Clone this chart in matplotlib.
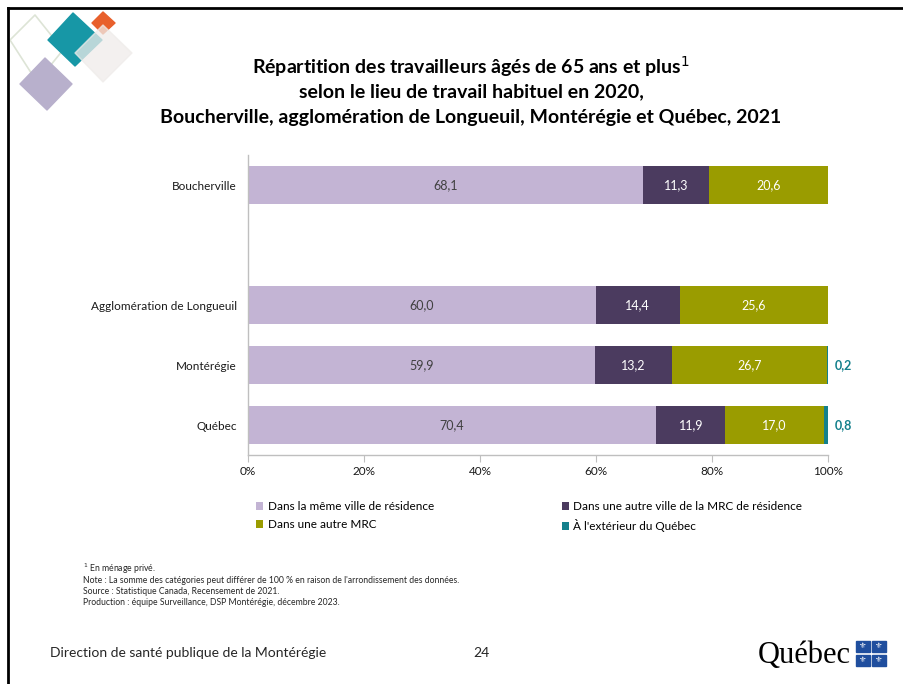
import matplotlib.pyplot as plt
from matplotlib.patches import Polygon, Rectangle
import matplotlib.lines as mlines

# ------------------------------------------------------------
# Data: workers aged 65+ by usual place of work (%)
# ------------------------------------------------------------
territoires = ["Boucherville", "", "Agglomération de Longueuil", "Montérégie", "Québec"]
meme_ville = [68.1, 0, 60.0, 59.9, 70.4]
autre_ville_mrc = [11.3, 0, 14.4, 13.2, 11.9]
autre_mrc = [20.6, 0, 25.6, 26.7, 17.0]
exterieur = [0, 0, 0, 0.2, 0.8]

series_labels = [
    "Dans la même ville de résidence",
    "Dans une autre ville de la MRC de résidence",
    "Dans une autre MRC",
    "À l'extérieur du Québec",
]
series_colors = ["#c3b4d4", "#4b3b5f", "#9a9c00", "#14808c"]
text_colors = ["#404040", "white", "white", "#14808c"]

ticks = [0, 20, 40, 60, 80, 100]
tick_labels = ["0%", "20%", "40%", "60%", "80%", "100%"]

plt.rcParams["font.family"] = ["Lato", "DejaVu Sans"]

W, H = 904, 684
fig = plt.figure(figsize=(W / 100, H / 100), dpi=100)

# ------------------------------------------------------------
# Slide frame and decorative diamonds (pixel coordinates)
# ------------------------------------------------------------
deco = fig.add_axes([0, 0, 1, 1])
deco.set_xlim(0, W)
deco.set_ylim(H, 0)
deco.axis("off")

deco.add_line(mlines.Line2D([8, W], [8, 8], color="black", lw=2))
deco.add_line(mlines.Line2D([8, 8], [8, H], color="black", lw=2))

deco.add_patch(Polygon([(35, 15), (63, 50), (37, 82), (10, 40)], closed=True,
                       fill=False, edgecolor="#dde4d6", lw=1.2, joinstyle="round"))
deco.add_patch(Polygon([(45, 58), (72, 84), (47, 110), (20, 84)], closed=True,
                       color="#b8b0cc", joinstyle="round"))
deco.add_patch(Polygon([(73, 13), (102, 40), (75, 66), (48, 40)], closed=True,
                       color="#1797a6", joinstyle="round"))
deco.add_patch(Polygon([(103, 12), (115, 23), (103, 34), (92, 23)], closed=True,
                       color="#e8602c", joinstyle="round"))
deco.add_patch(Polygon([(103, 25), (132, 53), (103, 82), (75, 53)], closed=True,
                       color="#efecea", alpha=0.75, joinstyle="round"))

# ------------------------------------------------------------
# Title
# ------------------------------------------------------------
title_lines = [
    "Répartition des travailleurs âgés de 65 ans et plus$^{1}$",
    "selon le lieu de travail habituel en 2020,",
    "Boucherville, agglomération de Longueuil, Montérégie et Québec, 2021",
]
for i, line in enumerate(title_lines):
    fig.text(471 / W, 1 - (67 + 25 * i) / H, line, ha="center", va="center",
             fontsize=14, fontweight="bold", color="black")

# ------------------------------------------------------------
# Stacked horizontal bars
# ------------------------------------------------------------
ax = fig.add_axes([248 / W, 1 - 455 / H, 580 / W, 300 / H])
ypos = list(range(len(territoires)))
series = [meme_ville, autre_ville_mrc, autre_mrc, exterieur]

left = [0] * len(territoires)
for vals, lab, col, tcol in zip(series, series_labels, series_colors, text_colors):
    bars = ax.barh(ypos, vals, left=left, height=0.62, color=col, label=lab)
    for b, v, l in zip(bars, vals, left):
        if v <= 0:
            continue
        txt = f"{v:.1f}".replace(".", ",")
        if col == series_colors[3]:
            ax.text(100 + 1.2, b.get_y() + b.get_height() / 2, txt, ha="left",
                    va="center", fontsize=9, fontweight="bold", color=tcol)
        else:
            ax.text(l + v / 2, b.get_y() + b.get_height() / 2, txt, ha="center",
                    va="center", fontsize=9, color=tcol)
    left = [a + b for a, b in zip(left, vals)]

ax.set_xlim(0, 100)
ax.set_ylim(len(territoires) - 0.5, -0.5)
ax.set_yticks(ypos)
ax.set_yticklabels(territoires, fontsize=8.5, color="#1a1a1a")
ax.tick_params(axis="y", length=0, pad=8)
ax.set_xticks(ticks)
ax.set_xticklabels(tick_labels, fontsize=8.5, color="#1a1a1a")
ax.tick_params(axis="x", length=5, color="#bfbfbf", pad=3)
for s in ["top", "right"]:
    ax.spines[s].set_visible(False)
for s in ["left", "bottom"]:
    ax.spines[s].set_color("#bfbfbf")
    ax.spines[s].set_linewidth(1)

handles, labels = ax.get_legend_handles_labels()
order = [0, 2, 1, 3]
fig.legend([handles[i] for i in order], [labels[i] for i in order],
           loc="upper left", bbox_to_anchor=(256 / W, 1 - 501 / H), ncol=2,
           frameon=False, fontsize=8.5, handlelength=0.6, handleheight=0.6,
           handletextpad=0.4, columnspacing=10.8, labelspacing=0.6,
           borderaxespad=0, borderpad=0)

# ------------------------------------------------------------
# Notes
# ------------------------------------------------------------
notes = [
    "$^{1}$ En ménage privé.",
    "Note : La somme des catégories peut différer de 100 % en raison de l'arrondissement des données.",
    "Source : Statistique Canada, Recensement de 2021.",
    "Production : équipe Surveillance, DSP Montérégie, décembre 2023.",
]
for i, n in enumerate(notes):
    fig.text(83 / W, 1 - (569 + 11.3 * i) / H, n, ha="left", va="center",
             fontsize=6.2, color="#262626")

# ------------------------------------------------------------
# Footer
# ------------------------------------------------------------
fig.text(50 / W, 1 - 653 / H, "Direction de santé publique de la Montérégie",
         ha="left", va="center", fontsize=10, color="#262626")
fig.text(481 / W, 1 - 653 / H, "24", ha="center", va="center",
         fontsize=10, color="#262626")
fig.text(804 / W, 1 - 655 / H, "Québec", ha="center", va="center",
         fontsize=22, color="black", family=["Liberation Serif"])
for cx, cy in [(863, 646), (879, 646), (863, 660), (879, 660)]:
    deco.add_patch(Rectangle((cx - 7, cy - 5.5), 14, 11, color="#1f4e9e"))
    deco.text(cx, cy, "⚜", ha="center", va="center", fontsize=6, color="white",
              family=["DejaVu Sans"])

fig.savefig("out.png", dpi=100)
